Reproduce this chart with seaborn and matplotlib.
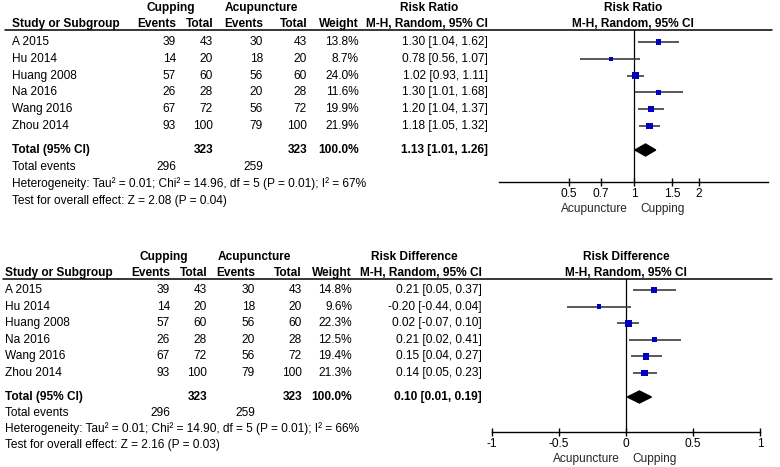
import matplotlib
matplotlib.use("Agg")
import matplotlib.pyplot as plt
import seaborn as sns
import pandas as pd

# study level data (same trials in both analyses)
studies = ["A 2015", "Hu 2014", "Huang 2008", "Na 2016", "Wang 2016", "Zhou 2014"]
cup_events = [39, 14, 57, 26, 67, 93]
cup_total = [43, 20, 60, 28, 72, 100]
acu_events = [30, 18, 56, 20, 56, 79]
acu_total = [43, 20, 60, 28, 72, 100]
sum_cup_events, sum_cup_total = 296, 323
sum_acu_events, sum_acu_total = 259, 323

# risk ratio
rr_weight = [13.8, 8.7, 24.0, 11.6, 19.9, 21.9]
rr_est = [1.30, 0.78, 1.02, 1.30, 1.20, 1.18]
rr_lo = [1.04, 0.56, 0.93, 1.01, 1.04, 1.05]
rr_hi = [1.62, 1.07, 1.11, 1.68, 1.37, 1.32]
rr_total = [1.13, 1.01, 1.26]
rr_het = "Heterogeneity: Tau² = 0.01; Chi² = 14.96, df = 5 (P = 0.01); I² = 67%"
rr_test = "Test for overall effect: Z = 2.08 (P = 0.04)"
rr_ticks = [0.5, 0.7, 1, 1.5, 2]
rr_ticklabels = ["0.5", "0.7", "1", "1.5", "2"]

# risk difference
rd_weight = [14.8, 9.6, 22.3, 12.5, 19.4, 21.3]
rd_est = [0.21, -0.20, 0.02, 0.21, 0.15, 0.14]
rd_lo = [0.05, -0.44, -0.07, 0.02, 0.04, 0.05]
rd_hi = [0.37, 0.04, 0.10, 0.41, 0.27, 0.23]
rd_total = [0.10, 0.01, 0.19]
rd_het = "Heterogeneity: Tau² = 0.01; Chi² = 14.90, df = 5 (P = 0.01); I² = 66%"
rd_test = "Test for overall effect: Z = 2.16 (P = 0.03)"
rd_ticks = [-1, -0.5, 0, 0.5, 1]
rd_ticklabels = ["-1", "-0.5", "0", "0.5", "1"]

W, H = 780, 467
FS = 8.6
BLUE = "#0000c0"
CI_COL = "#3c3c3c"

sns.set_theme(style="white")
plt.rcParams["font.family"] = ["Liberation Sans", "DejaVu Sans"]

fig = plt.figure(figsize=(W / 100, H / 100), dpi=100)
bg = fig.add_axes([0, 0, 1, 1])
bg.set_xlim(0, W)
bg.set_ylim(H, 0)
bg.axis("off")


def txt(x, y, s, ha="left", bold=False):
    bg.text(x, y, s, ha=ha, va="center", fontsize=FS,
            fontweight="bold" if bold else "normal", color="black")


def panel(lay, measure, est, lo, hi, weight, total, het, test,
          ticks, ticklabels, xlim, log, ref):
    c = lay["cols"]
    # headers
    txt(c["cup_h"], lay["h1"], "Cupping", ha="center", bold=True)
    txt(c["acu_h"], lay["h1"], "Acupuncture", ha="center", bold=True)
    txt(c["eff_h"], lay["h1"], measure, ha="center", bold=True)
    txt(c["plot_h"], lay["h1"], measure, ha="center", bold=True)
    txt(c["study"], lay["h2"], "Study or Subgroup", bold=True)
    txt(c["ce"], lay["h2"], "Events", ha="right", bold=True)
    txt(c["ct"], lay["h2"], "Total", ha="right", bold=True)
    txt(c["ae"], lay["h2"], "Events", ha="right", bold=True)
    txt(c["at"], lay["h2"], "Total", ha="right", bold=True)
    txt(c["w"], lay["h2"], "Weight", ha="right", bold=True)
    txt(c["eff"], lay["h2"], "M-H, Random, 95% CI", ha="right", bold=True)
    txt(c["plot_h"], lay["h2"], "M-H, Random, 95% CI", ha="center", bold=True)
    bg.plot([lay["line_x0"], lay["line_x1"]], [lay["line"], lay["line"]],
            color="black", lw=1.1)

    rows = [lay["row0"] + i * lay["dy"] for i in range(len(studies))]
    for i, y in enumerate(rows):
        txt(c["study"], y, studies[i])
        txt(c["ce"], y, str(cup_events[i]), ha="right")
        txt(c["ct"], y, str(cup_total[i]), ha="right")
        txt(c["ae"], y, str(acu_events[i]), ha="right")
        txt(c["at"], y, str(acu_total[i]), ha="right")
        txt(c["w"], y, f"{weight[i]:.1f}%", ha="right")
        txt(c["eff"], y, f"{est[i]:.2f} [{lo[i]:.2f}, {hi[i]:.2f}]", ha="right")

    yt = lay["total"]
    txt(c["study"], yt, "Total (95% CI)", bold=True)
    txt(c["ct"], yt, str(sum_cup_total), ha="right", bold=True)
    txt(c["at"], yt, str(sum_acu_total), ha="right", bold=True)
    txt(c["w"], yt, "100.0%", ha="right", bold=True)
    txt(c["eff"], yt, f"{total[0]:.2f} [{total[1]:.2f}, {total[2]:.2f}]",
        ha="right", bold=True)
    txt(c["study"], lay["events"], "Total events")
    txt(c["ce"], lay["events"], str(sum_cup_events), ha="right")
    txt(c["ae"], lay["events"], str(sum_acu_events), ha="right")
    txt(c["study"], lay["het"], het)
    txt(c["study"], lay["test"], test)

    # forest part
    x0, x1 = lay["ax_x"]
    ax = fig.add_axes([x0 / W, 1 - lay["axis"] / H, (x1 - x0) / W,
                       (lay["axis"] - lay["line"]) / H])
    ax.patch.set_alpha(0)
    if log:
        ax.set_xscale("log")
    ax.set_xlim(*xlim)
    ax.set_ylim(lay["axis"], lay["line"])
    for s in ["top", "right", "left"]:
        ax.spines[s].set_visible(False)
    ax.spines["bottom"].set_color("black")
    ax.spines["bottom"].set_linewidth(1.0)
    ax.set_xticks(ticks)
    ax.set_xticklabels(ticklabels)
    ax.minorticks_off()
    ax.set_yticks([])
    ax.tick_params(axis="x", direction="inout", length=6, width=1.0,
                   color="black", pad=1.5, labelsize=FS, labelcolor="black",
                   bottom=True)

    ax.axvline(ref, color="black", lw=0.9, zorder=1)
    ax.hlines(rows, lo, hi, color=CI_COL, lw=1.2, zorder=2)
    df = pd.DataFrame({"est": est, "row": rows, "weight": weight})
    sns.scatterplot(data=df, x="est", y="row", size="weight", sizes=(0, 106),
                    size_norm=(0, 100), marker="s", color=BLUE, linewidth=0,
                    legend=False, ax=ax, zorder=3)
    dh = 6
    ax.fill([total[1], total[0], total[2], total[0]],
            [yt, yt - dh, yt, yt + dh], color="black", zorder=3)
    ax.set_xlabel("")
    ax.set_ylabel("")

    ax.annotate("Acupuncture", xy=(ref, 0), xycoords=("data", "axes fraction"),
                xytext=(-6, -27), textcoords="offset pixels", ha="right",
                va="center", fontsize=FS)
    ax.annotate("Cupping", xy=(ref, 0), xycoords=("data", "axes fraction"),
                xytext=(6, -27), textcoords="offset pixels", ha="left",
                va="center", fontsize=FS)


top_layout = dict(
    h1=8, h2=24, line=30, row0=42, dy=16.8, total=150, events=167,
    het=184, test=201, axis=182, line_x0=5, line_x1=772, ax_x=(499, 768),
    cols=dict(study=12, ce=176, ct=213, ae=263, at=307, w=359, eff=488,
              cup_h=171, acu_h=261, eff_h=429, plot_h=633),
)
bottom_layout = dict(
    h1=257, h2=273, line=279, row0=290, dy=16.6, total=397, events=413,
    het=429, test=445, axis=432, line_x0=3, line_x1=772, ax_x=(492, 760),
    cols=dict(study=5, ce=170, ct=207, ae=255, at=302, w=352, eff=482,
              cup_h=164, acu_h=254, eff_h=414, plot_h=626),
)

panel(top_layout, "Risk Ratio", rr_est, rr_lo, rr_hi, rr_weight, rr_total,
      rr_het, rr_test, rr_ticks, rr_ticklabels, (0.237, 4.17), True, 1)
panel(bottom_layout, "Risk Difference", rd_est, rd_lo, rd_hi, rd_weight,
      rd_total, rd_het, rd_test, rd_ticks, rd_ticklabels, (-1, 1), False, 0)

fig.savefig("out.png", dpi=100)
